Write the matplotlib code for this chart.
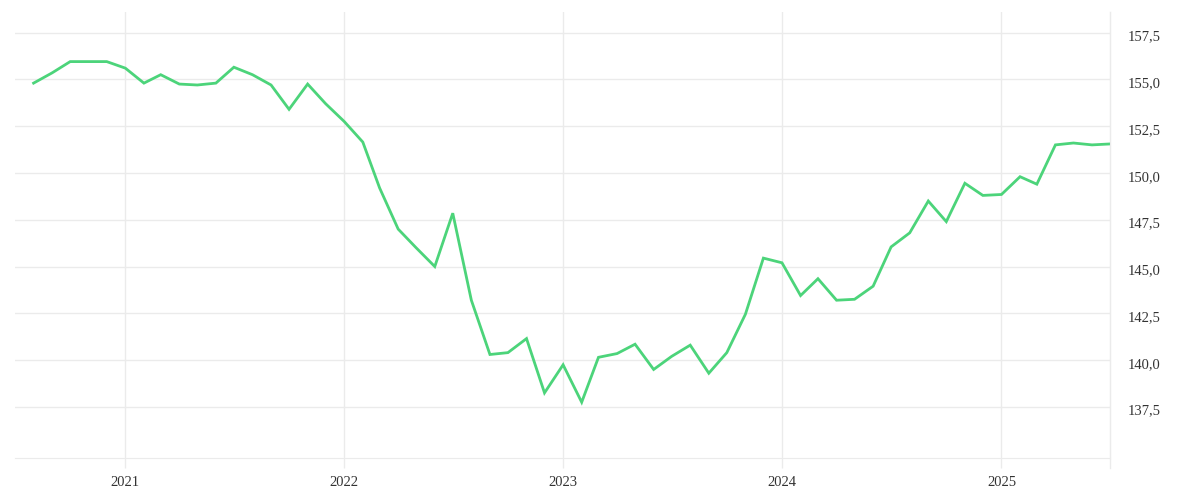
import matplotlib
matplotlib.use("Agg")
import matplotlib.pyplot as plt
import matplotlib.dates as mdates
from matplotlib.ticker import FuncFormatter, FixedLocator
from matplotlib.transforms import ScaledTranslation
import pandas as pd

# monthly values, Aug 2020 .. Jul 2025
months = pd.date_range("2020-08-01", periods=60, freq="MS")
values = [
    154.8, 155.35, 155.95, 155.95, 155.95,
    155.6, 154.8, 155.25, 154.75, 154.7, 154.8, 155.65, 155.25, 154.7, 153.4, 154.75, 153.7,
    152.75, 151.65, 149.2, 147.0, 146.0, 145.0, 147.85, 143.2, 140.3, 140.4, 141.15, 138.25,
    139.75, 137.75, 140.15, 140.35, 140.85, 139.5, 140.2, 140.8, 139.3, 140.4, 142.45, 145.45,
    145.2, 143.45, 144.35, 143.2, 143.25, 143.95, 146.05, 146.8, 148.5, 147.4, 149.45, 148.8,
    148.85, 149.8, 149.4, 151.5, 151.6, 151.5, 151.55,
]
year_ticks = ["2021-01-01", "2022-01-01", "2023-01-01", "2024-01-01", "2025-01-01"]
y_ticks = [137.5, 140.0, 142.5, 145.0, 147.5, 150.0, 152.5, 155.0, 157.5]

grid_col = "#ebebeb"
text_col = "#333333"

plt.rcParams["font.family"] = ["Liberation Serif", "DejaVu Serif"]

fig = plt.figure(figsize=(12, 5), dpi=100)
ax = fig.add_axes([15 / 1200, 42 / 500, 1095 / 1200, 446 / 500])

ax.plot(months, values, color="#4cd47a", linewidth=2.0, solid_joinstyle="miter")

ax.set_xlim(pd.Timestamp("2020-07-01"), pd.Timestamp("2025-07-01"))
ax.set_ylim(134.77, 158.6)

ax.xaxis.set_major_locator(FixedLocator(mdates.date2num(pd.to_datetime(year_ticks))))
ax.xaxis.set_major_formatter(mdates.DateFormatter("%Y"))
ax.yaxis.set_major_locator(FixedLocator(y_ticks))
ax.yaxis.set_major_formatter(FuncFormatter(lambda v, p: f"{v:.1f}".replace(".", ",")))
ax.yaxis.tick_right()

ax.grid(True, color=grid_col, linewidth=1)
ax.set_axisbelow(True)
ax.tick_params(axis="x", length=7, width=1, color=grid_col, labelcolor=text_col,
               labelsize=10.5, pad=6)
ax.tick_params(axis="y", length=0, labelcolor=text_col, labelsize=10.5, pad=13)

# y labels sit a little below their gridlines
for lbl in ax.get_yticklabels():
    lbl.set_transform(lbl.get_transform() + ScaledTranslation(0, -2 / 72, fig.dpi_scale_trans))

for side in ["top", "left"]:
    ax.spines[side].set_visible(False)
ax.spines["bottom"].set_color(grid_col)
ax.spines["right"].set_color(grid_col)
ax.axvline(pd.Timestamp("2025-07-01"), ymin=-0.022, ymax=1, color=grid_col,
           linewidth=1, clip_on=False, zorder=0)

fig.savefig("out.png", dpi=100, facecolor="white")
